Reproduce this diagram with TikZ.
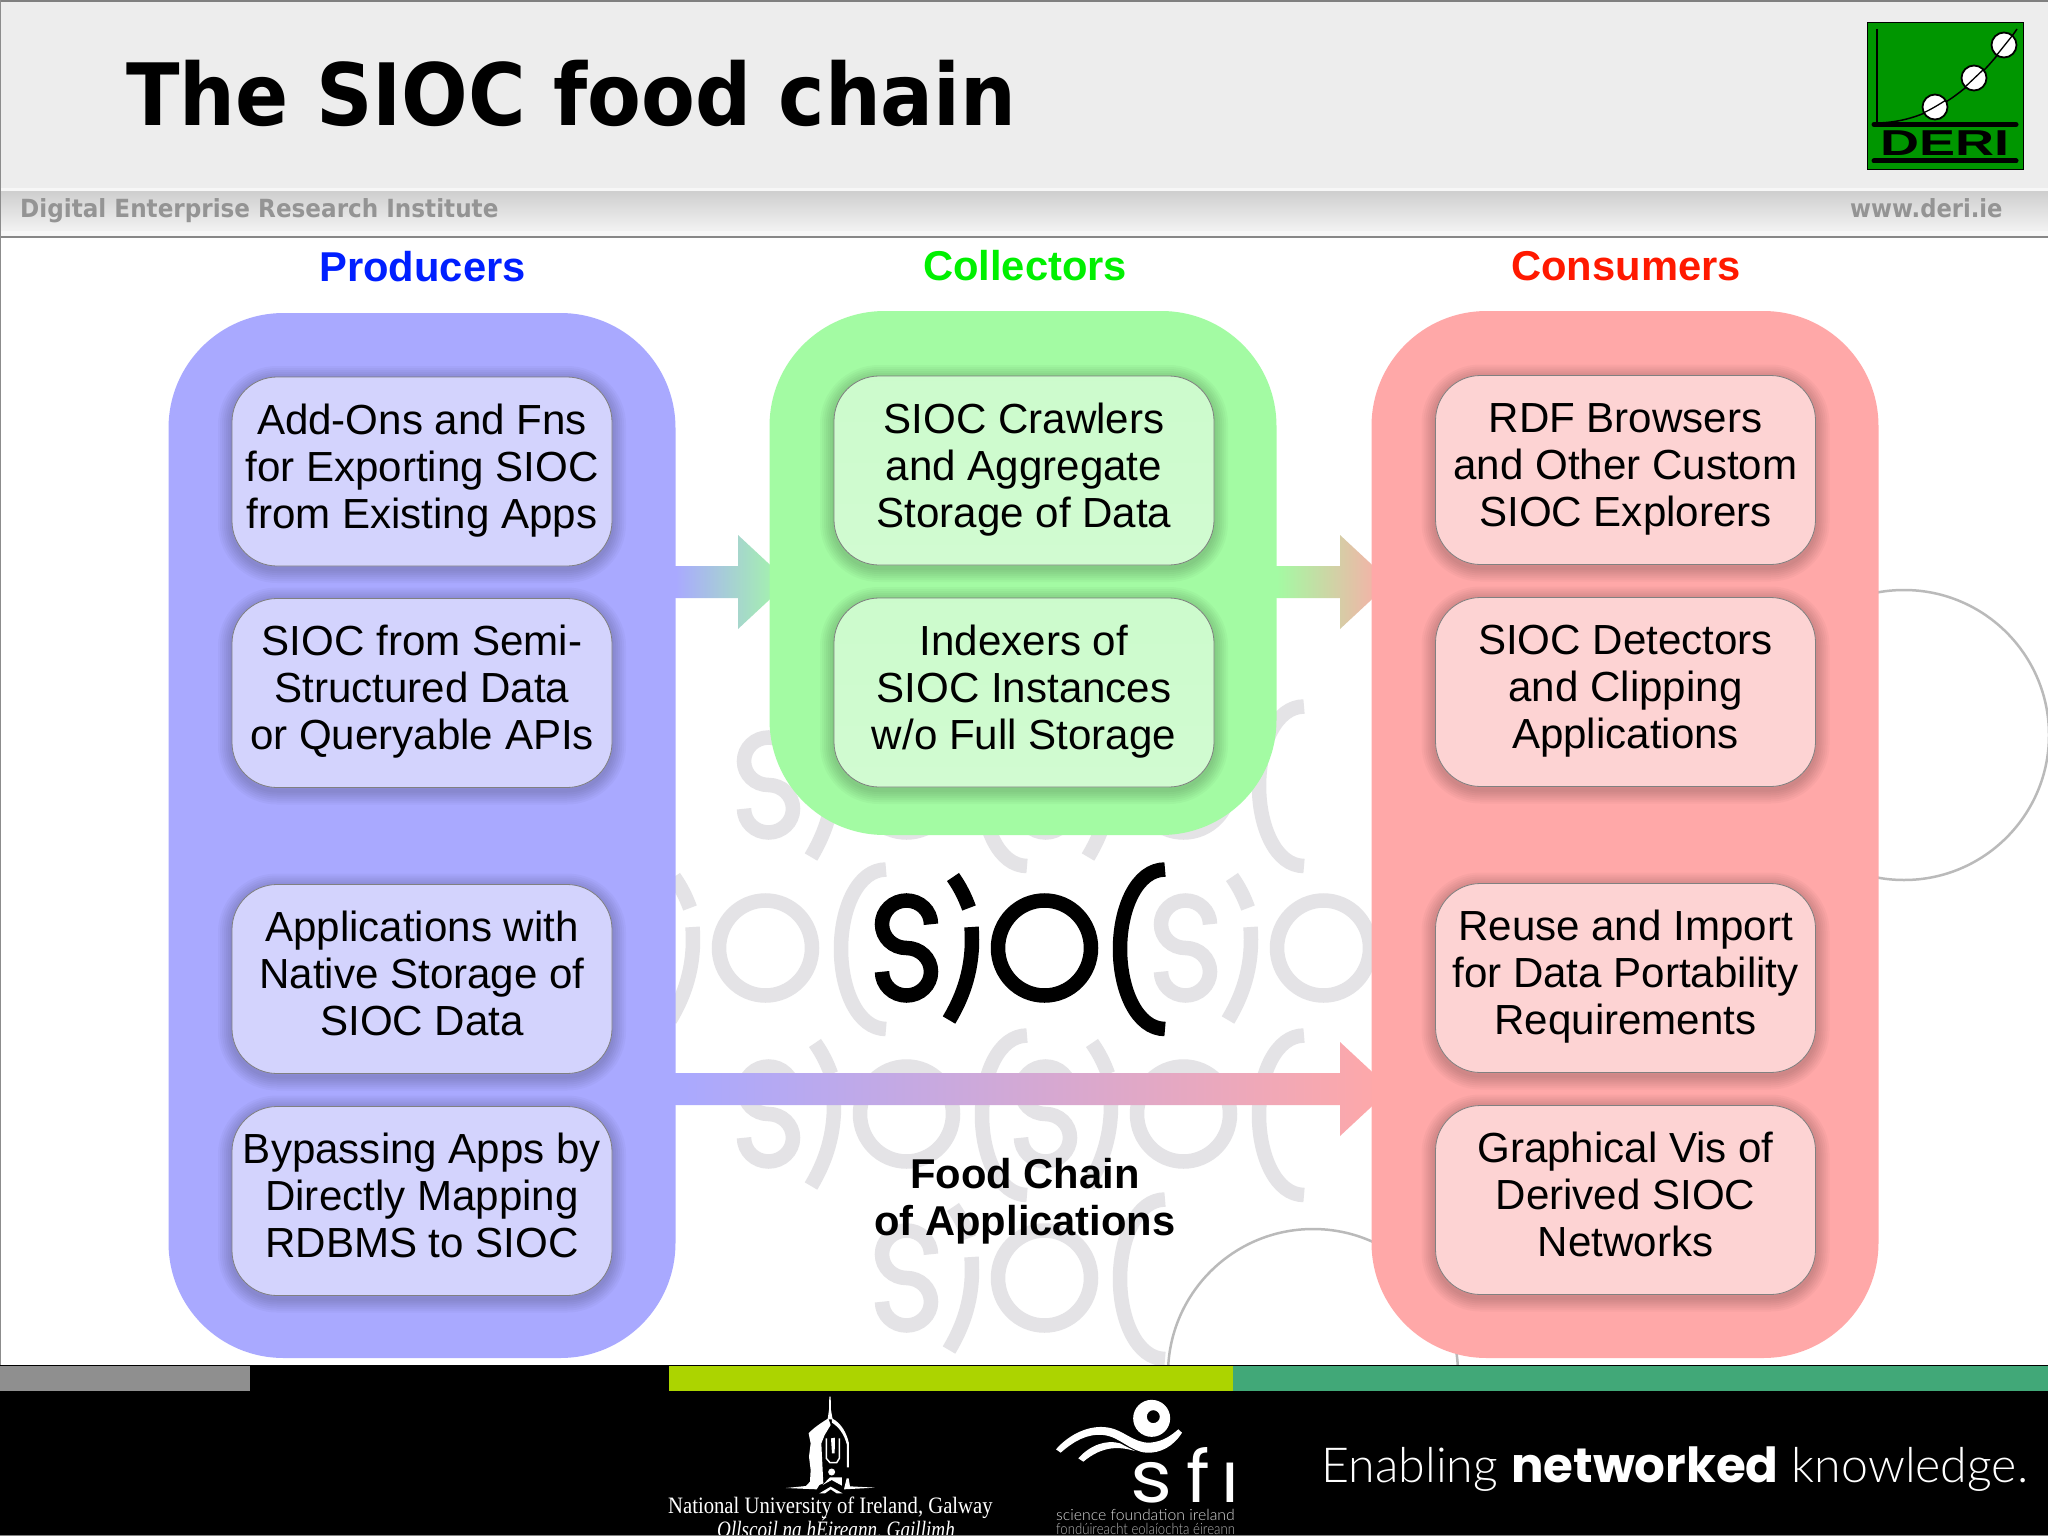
\documentclass[tikz,border=0pt]{standalone}
\usepackage{fontspec}
\setmainfont{Liberation Sans}
\newfontfamily\lucida{DejaVu Sans}
\newfontfamily\lightfont{Lato Light}
\newfontfamily\heavyfont{Poppins}
\newfontfamily\serifname{Liberation Serif}
\newfontfamily\rounded{Poppins}
\usetikzlibrary{calc}
\pgfdeclarelayer{back}
\pgfsetlayers{back,main}
\definecolor{panelblue}{HTML}{A9A9FF}
\definecolor{innerblue}{HTML}{D3D3FD}
\definecolor{panelgreen}{HTML}{A3FBA3}
\definecolor{innergreen}{HTML}{D1FBD1}
\definecolor{panelred}{HTML}{FFA8A8}
\definecolor{innerred}{HTML}{FDD3D3}
\definecolor{wm}{HTML}{E4E3E6}
\definecolor{limebar}{HTML}{ACD400}
\definecolor{tealbar}{HTML}{41A878}
\tikzset{
 panel/.style={rounded corners=115pt,minimum width=507pt,inner sep=0pt,outer sep=0pt},
 softedge/.style={preaction={draw=black,draw opacity=0.028,line width=#1,transform canvas={yshift=-3pt}}},
 innerbox/.style={rounded corners=45pt,minimum width=380pt,minimum height=189pt,inner sep=0pt,
   softedge=28pt,softedge=24pt,softedge=20pt,softedge=16pt,softedge=12pt,softedge=8pt,softedge=4pt,
   draw=black!50,line width=0.8pt,align=center,text=black,
   font=\fontsize{42.1}{47}\selectfont,
   execute at begin node={\rule[-10.6pt]{0pt}{47pt}},
   execute at end node={\rule[-10.6pt]{0pt}{47pt}}},
 heading/.style={font=\bfseries\fontsize{41.7}{46}\selectfont,anchor=base,inner sep=0pt},
 glyph/.style={line width=14.5pt,line cap=butt},
 ringline/.style={draw=black!27,line width=2.5pt},
 bandtext/.style={text=black!42,anchor=base west,inner sep=0pt},
}
\newcommand\siocmark[3]{%
 \begin{scope}[shift={(#1,#2)},glyph,draw=#3]
  \draw (931,924.25) .. controls (931,911.1) and (920,900.5) .. (906.5,900.5)
   .. controls (893,900.5) and (882,911.1) .. (882,924.25)
   .. controls (882,937.4) and (893,948) .. (906.5,948)
   .. controls (920,948) and (931,958.6) .. (931,971.75)
   .. controls (931,984.9) and (920,995.5) .. (906.5,995.5)
   .. controls (893,995.5) and (882,984.9) .. (882,971.75);
  \draw (953,877) .. controls (960,887) and (965,897) .. (969,908);
  \draw (971.5,927) .. controls (974,960) and (967,990) .. (949,1020);
  \draw (1044.5,948) circle [x radius=46.5pt,y radius=47.5pt];
  \draw (1165,869.5) .. controls (1137,869.5) and (1120,908) .. (1120,949)
   .. controls (1120,990) and (1137,1029) .. (1165,1029);
 \end{scope}}
\newcommand\flowarrow[7]{% from, to, y, half tail, colour, middle, colour
 \coordinate (#1#2s) at (#1.east |- 0,#3);
 \coordinate (#1#2t) at ($(#2.west |- 0,#3)+(19,0)$);
 \shade[left color=#5,middle color=#6,right color=#7]
  ($(#1#2s)+(0,-#4)$) -- ($(#1#2t)+(-50.5,-#4)$) -- ($(#1#2t)+(-50.5,-47)$) -- (#1#2t)
  -- ($(#1#2t)+(-50.5,47)$) -- ($(#1#2t)+(-50.5,#4)$) -- ($(#1#2s)+(0,#4)$) -- cycle;}
\begin{document}
\begin{tikzpicture}[x=1pt,y=-1pt]
\useasboundingbox (0,0) rectangle (2048,1536);
% panels
\node[panel,fill=panelblue,minimum height=1045pt] (prod) at (422,835.5) {};
\node[panel,fill=panelgreen,minimum height=524pt] (coll) at (1023,573) {};
\node[panel,fill=panelred,minimum height=1047pt] (cons) at (1625,834.5) {};
% inner boxes
\node[innerbox,fill=innerblue] (p1) at (422,471.5) {Add-Ons and Fns\\for Exporting SIOC\\from Existing Apps};
\node[innerbox,fill=innerblue] (p2) at (422,693) {SIOC from Semi-\\Structured Data\\or Queryable APIs};
\node[innerbox,fill=innerblue] (p3) at (422,979) {Applications with\\Native Storage of\\SIOC Data};
\node[innerbox,fill=innerblue] (p4) at (422,1201) {Bypassing Apps by\\Directly Mapping\\RDBMS to SIOC};
\node[innerbox,top color=innergreen!90!panelgreen,bottom color=innergreen,draw=black!50] (c1) at (1024,470.5) {SIOC Crawlers\\and Aggregate\\Storage of Data};
\node[innerbox,top color=innergreen!90!panelgreen,bottom color=innergreen,draw=black!50] (c2) at (1024,692.5) {Indexers of\\SIOC Instances\\w/o Full Storage};
\node[innerbox,fill=innerred] (k1) at (1625.5,470) {RDF Browsers\\and Other Custom\\SIOC Explorers};
\node[innerbox,fill=innerred] (k2) at (1625.5,692) {SIOC Detectors\\and Clipping\\Applications};
\node[innerbox,fill=innerred] (k3) at (1625.5,978) {Reuse and Import\\for Data Portability\\Requirements};
\node[innerbox,fill=innerred] (k4) at (1625.5,1200) {Graphical Vis of\\Derived SIOC\\Networks};
% background layer
\begin{pgfonlayer}{back}
 \fill[white] (0,0) rectangle (2048,1536);
 \draw[ringline] (1904,735) circle [radius=145pt];
 \draw[ringline] (1313,1374) circle [radius=145pt];
 \siocmark{-138}{-163}{wm}
 \siocmark{139}{-163}{wm}
 \siocmark{-279}{0}{wm}
 \siocmark{279}{0}{wm}
 \siocmark{-138}{166}{wm}
 \siocmark{139}{166}{wm}
 \siocmark{0}{330}{wm}
 \siocmark{0}{0}{black}
 \flowarrow{prod}{coll}{582}{16}{panelblue}{panelblue!50!panelgreen}{panelgreen}
 \flowarrow{coll}{cons}{582}{16}{panelgreen}{panelgreen!22!panelred}{panelred}
 \flowarrow{prod}{cons}{1089}{16}{panelblue}{panelblue!50!panelred}{panelred}
\end{pgfonlayer}
% column headings
\node[heading,text=blue!88!cyan] (hp) at (422.5,281) {Producers};
\node[heading,text=green!94!black] (hc) at (1025,280) {Collectors};
\node[heading,text=red!90!yellow] (hk) at (1626,280) {Consumers};
\node[inner sep=0pt,font=\bfseries\fontsize{41.7}{47.5}\selectfont,anchor=base] (fc1) at (1025,1188.5) {Food Chain};
\node[inner sep=0pt,font=\bfseries\fontsize{41.7}{47.5}\selectfont,anchor=base] (fc2) at (1025,1235) {of Applications};
% header
\fill[black!7] (0,0) rectangle (2048,188);
\fill[black!50] (0,0) rectangle (2048,2);
\fill[black!3] (0,188) rectangle (2048,191);
\shade[top color=black!19,bottom color=black!5] (0,191) rectangle (2048,231);
\fill[black!3] (0,231) rectangle (2048,236);
\fill[black!47] (0,236) rectangle (2048,238);
\fill[black!45] (0,0) rectangle (1.2,1366);
\node[anchor=base west,inner sep=0pt,font=\lucida\bfseries\fontsize{86}{90}\selectfont] (title) at (126,126) {\scalebox{0.912}[1]{The SIOC food chain}};
\node[bandtext,font=\lucida\bfseries\fontsize{25}{28}\selectfont] (inst) at (20,217) {\scalebox{0.925}[1]{Digital Enterprise Research Institute}};
\node[bandtext,font=\lucida\bfseries\fontsize{25}{28}\selectfont] (site) at (1850,217.5) {\scalebox{0.907}[1]{www.deri.ie}};
% DERI logo
\fill[green!59!black,draw=black,line width=1pt] (1867,23) rectangle (2023,169);
\draw[line width=1.5pt] (1877,29) -- (1877,123);
\draw[line width=1.5pt] (1877,123) .. controls (1930,122) and (1975,90) .. (2017,29);
\foreach \cx/\cy in {1935/107,1974/78,2004/45}{
  \fill[white,draw=black,line width=1.8pt] (\cx,\cy) circle [radius=12.5pt];}
\draw[line width=1.3pt] (1923,113) .. controls (1930,110) and (1940,104) .. (1946,100);
\draw[line width=1.3pt] (1965,87) -- (1984,69);
\draw[line width=1.3pt] (1996,56) -- (2012,36);
\draw[line width=5pt,line cap=round] (1874,124.5) -- (2016,124.5);
\draw[line width=5pt,line cap=round] (1874,161) -- (2016,161);
\node[anchor=base,inner sep=0pt,font=\bfseries\fontsize{36}{36}\selectfont] (deri) at (1945,156) {\scalebox{1.5}[1]{DERI}};
% footer bars
\fill[black] (0,1365) rectangle (2048,1536);
\fill[black!44] (0,1366) rectangle (250,1391);
\fill[limebar] (669,1365.5) rectangle (1232.5,1391);
\fill[tealbar] (1232.5,1365.5) rectangle (2048,1391);
% tower
\begin{scope}[shift={(660,1390)},x=0.3333pt,y=-0.3333pt]
 \fill[white] (508,20) -- (512,20) -- (513,60) -- (518,88) -- (503,88) -- (507,60) -- cycle;
 \fill[white] (505,85) .. controls (485,98) and (462,112) .. (446,130) -- (452,160) -- (447,200) -- (452,240) -- (450,275) -- (438,288) -- (378,294) -- (470,298) -- (478,285) -- (490,280) -- (484,160) -- (494,135) -- (512,105) -- cycle;
 \fill[white] (516,85) .. controls (545,100) and (560,130) .. (567,160) -- (567,232) -- (561,232) -- (561,165) .. controls (552,130) and (535,110) .. (516,98) -- cycle;
 \draw[white,line width=1.5pt] (499,145) -- (499,205) -- (510,218) -- (530,218) -- (538,205) -- (538,145);
 \fill[white] (513,145) -- (525,143) -- (524,190) -- (516,190) -- cycle;
 \fill[white] (515,246) circle [radius=3.5pt];
 \fill[white] (488,285) -- (510,262) -- (546,262) -- (546,287) -- (515,270) -- cycle;
 \fill[white] (478,310) -- (512,290) -- (548,310) -- (530,310) -- (512,298) -- (495,310) -- cycle;
 \fill[white] (552,298) -- (645,293) -- (570,289) -- (566,265) -- (560,265) -- cycle;
\end{scope}
\node[anchor=base west,inner sep=0pt,text=white,font=\serifname\fontsize{23.5}{26}\selectfont] (nui) at (668,1513) {\scalebox{0.88}[1]{National University of Ireland, Galway}};
\node[anchor=base west,inner sep=0pt,text=white,font=\serifname\itshape\fontsize{23.5}{26}\selectfont] (nuig) at (717,1537) {\scalebox{0.815}[1]{Ollscoil na hÉireann, Gaillimh}};
% sfi
\begin{scope}[shift={(1040,1390)},x=0.3333pt,y=-0.3333pt]
 \fill[white,even odd rule] (335,85) circle [radius=18.5pt] (340,80) circle [radius=6.5pt];
 \fill[white] (48,178) .. controls (90,130) and (150,105) .. (200,112) .. controls (250,118) and (280,160) .. (330,158) .. controls (370,155) and (395,135) .. (415,118) -- (426,128) .. controls (400,170) and (360,190) .. (320,188) .. controls (270,185) and (240,140) .. (190,135) .. controls (140,130) and (100,155) .. (62,188) -- cycle;
 \fill[white] (115,205) .. controls (150,165) and (200,148) .. (240,160) -- (285,183) .. controls (240,170) and (190,165) .. (130,215) -- cycle;
\end{scope}
\node[anchor=base west,inner sep=0pt,text=white,font=\rounded\fontsize{72}{72}\selectfont] (sfi) at (1130,1502) {\scalebox{1.12}[1]{s}\kern14pt f\kern12pt i};
\fill[black] (1218,1438) rectangle (1245,1459);
\node[anchor=base west,inner sep=0pt,text=white!85!black,font=\lightfont\fontsize{15.5}{17}\selectfont] (sf1) at (1056,1520) {\scalebox{1.02}[1]{science foundation ireland}};
\node[anchor=base west,inner sep=0pt,text=white!70!black,font=\lightfont\fontsize{15.5}{17}\selectfont] (sf2) at (1056,1534.5) {\scalebox{0.85}[1]{fondúireacht eolaíochta éireann}};
% tagline
\node[anchor=base west,inner sep=0pt,text=white,font=\lightfont\fontsize{48.3}{50}\selectfont] (tag) at (1321.5,1482) {Enabling {\heavyfont\bfseries networked} knowledge.};
\fill[black!50] (0,1534.5) rectangle (2048,1536);
\end{tikzpicture}
\end{document}
